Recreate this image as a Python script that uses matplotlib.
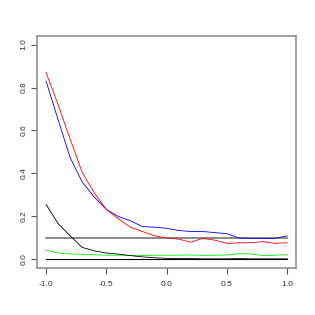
import numpy as np
import matplotlib
matplotlib.use('Agg')
import matplotlib.pyplot as plt

plt.rcParams['font.family'] = ['Liberation Sans', 'DejaVu Sans']

x = np.round(np.arange(-1.0, 1.01, 0.1), 1)

red = [0.87, 0.72, 0.56, 0.405, 0.31, 0.233, 0.19, 0.15, 0.13, 0.11, 0.10,
       0.095, 0.08, 0.098, 0.09, 0.075, 0.077, 0.078, 0.083, 0.075, 0.078]
blue = [0.83, 0.65, 0.474, 0.36, 0.29, 0.233, 0.20, 0.18, 0.153, 0.15, 0.145,
        0.135, 0.13, 0.13, 0.125, 0.12, 0.10, 0.098, 0.097, 0.098, 0.11]
black = [0.256, 0.167, 0.11, 0.056, 0.04, 0.03, 0.025, 0.018, 0.012, 0.008, 0.005,
         0.004, 0.004, 0.003, 0.003, 0.003, 0.004, 0.003, 0.003, 0.003, 0.003]
green = [0.043, 0.03, 0.026, 0.024, 0.022, 0.02, 0.02, 0.019, 0.018, 0.02, 0.02,
         0.02, 0.021, 0.019, 0.02, 0.021, 0.027, 0.026, 0.018, 0.02, 0.022]
ref_level = 0.1

fig = plt.figure(figsize=(3.15, 3.15), dpi=100)
ax = fig.add_axes([0.1175, 0.149, 0.8225, 0.737])

ax.plot([x[0], x[-1]], [ref_level, ref_level], color='#808080', lw=1.3)
ax.plot([x[0], x[-1]], [0, 0], color='black', lw=0.8)
ax.plot(x, green, color='#00ee00', lw=0.6)
ax.plot(x, black, color='black', lw=0.6)
ax.plot(x, blue, color='blue', lw=0.6)
ax.plot(x, red, color='red', lw=0.6)

ax.set_xlim(-1.075, 1.075)
ax.set_ylim(-0.04, 1.04)
ax.set_xticks([-1.0, -0.5, 0.0, 0.5, 1.0])
ax.set_xticklabels(['-1.0', '-0.5', '0.0', '0.5', '1.0'])
ax.set_yticks([0.0, 0.2, 0.4, 0.6, 0.8, 1.0])
ax.set_yticklabels(['0.0', '0.2', '0.4', '0.6', '0.8', '1.0'], rotation=90, va='center')
for s in ax.spines.values():
    s.set_color('#909090')
    s.set_linewidth(1.2)
ax.tick_params(length=4, width=0.8, color='#555555', labelsize=6, labelcolor='#333333')
ax.tick_params(axis='x', pad=5)
ax.tick_params(axis='y', pad=3)

fig.savefig('out.png', dpi=100)
